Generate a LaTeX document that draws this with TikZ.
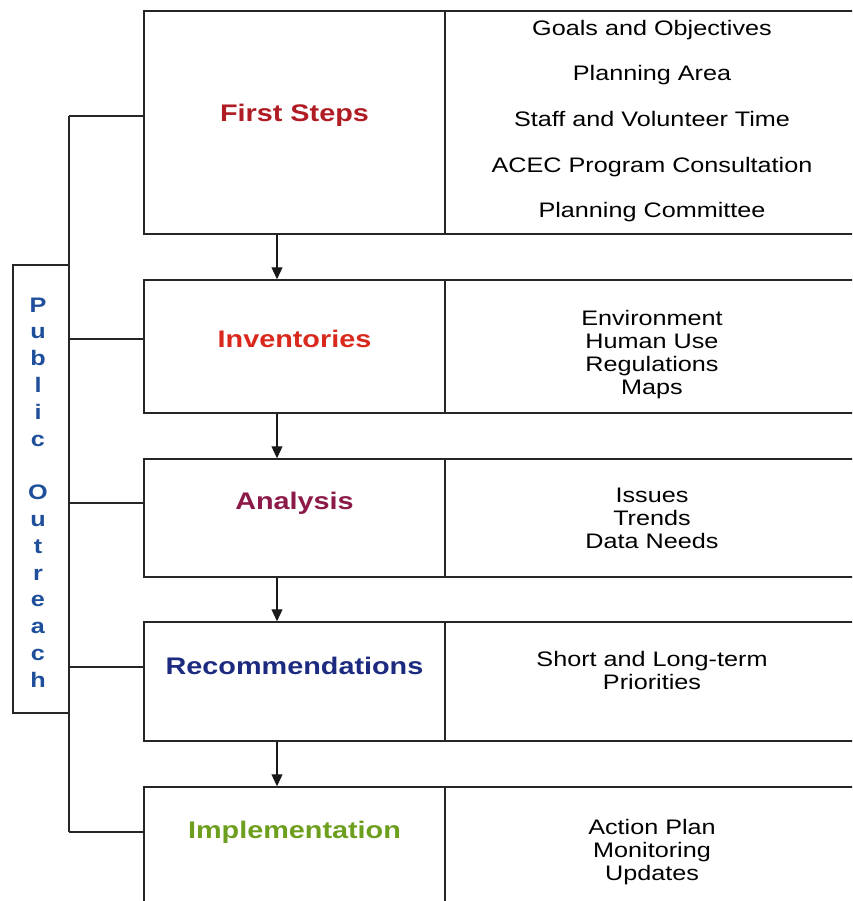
\documentclass[tikz,border=0pt]{standalone}
\usepackage{fontspec}
\setmainfont{Liberation Sans}[FakeStretch=1.2]
\usetikzlibrary{arrows.meta}
\definecolor{firstred}{HTML}{B01C24}
\definecolor{invred}{HTML}{D9281C}
\definecolor{anaplum}{HTML}{8C1A48}
\definecolor{recblue}{HTML}{1C2A80}
\definecolor{impgreen}{HTML}{6E9E1E}
\definecolor{poblue}{HTML}{1F4F9A}
\tikzset{
  stage/.style={draw=black!85,line width=1.5pt,minimum width=301pt},
  items/.style={draw=black!85,line width=1.5pt,minimum width=414pt},
  title/.style={font=\bfseries\fontsize{24}{28}\selectfont,anchor=base},
  list/.style={align=center,anchor=base,font=\fontsize{21}{23}\selectfont},
  link/.style={draw=black!85,line width=1.3pt},
  flow/.style={draw=black!90,line width=1.2pt,-{Triangle[length=12pt,width=11pt]}}
}

\begin{document}
\begin{tikzpicture}[x=1pt,y=-1pt]
\useasboundingbox (0,0) rectangle (852,901);
\clip (0,0) rectangle (852,901);
% boxes: stage on the left, items on the right
\foreach \n/\y/\h in {fs/122.5/223,inv/346.5/133,ana/518/118,rec/681.5/119,imp/862/150}{
\node[stage,minimum height=\h pt] (\n) at (294.5,\y) {};
\node[items,minimum height=\h pt] (\n-r) at (652,\y) {};
}
% stage titles
\node[title,firstred] (fs-t) at (294.5,121.5) {First Steps};
\node[title,invred] (inv-t) at (294.5,347.5) {Inventories};
\node[title,anaplum] (ana-t) at (294.5,509.5) {Analysis};
\node[title,recblue] (rec-t) at (294.5,674.5) {Recommendations};
\node[title,impgreen] (imp-t) at (294.5,838.5) {Implementation};
% item lists (placed by the baseline of their last line)
\node[list,font=\fontsize{21}{45.7}\selectfont] (fs-l) at (652,218) {Goals and Objectives\\Planning Area\\Staff and Volunteer Time\\ACEC Program Consultation\\Planning Committee};
\node[list] (inv-l) at (652,394) {Environment\\Human Use\\Regulations\\Maps};
\node[list] (ana-l) at (652,548) {Issues\\Trends\\Data Needs};
\node[list] (rec-l) at (652,689) {Short and Long-term\\Priorities};
\node[list] (imp-l) at (652,880) {Action Plan\\Monitoring\\Updates};
% arrows between stages
\coordinate (ax) at (277,0);
\foreach \a/\b in {fs/inv,inv/ana,ana/rec,rec/imp}{
\draw[flow] (\a.south -| ax) -- (\b.north -| ax);
}
% public outreach bracket
\node[draw=black!85,line width=1.3pt,minimum width=56pt,minimum height=448pt] (po) at (41,489) {};
\foreach \ch [count=\i from 0] in {P,u,b,l,i,c,{},O,u,t,r,e,a,c,h}{
\node[poblue,anchor=base,font=\bfseries\fontsize{21}{24}\selectfont,inner sep=0pt] (po-\i) at (38,{312+26.8*\i}) {\ch};
}
\coordinate (j1) at (69,116);
\coordinate (j2) at (69,339);
\coordinate (j3) at (69,503);
\coordinate (j4) at (69,667);
\coordinate (j5) at (69,832);
\draw[link] (j1) -- (j5);
\foreach \j/\n in {j1/fs,j2/inv,j3/ana,j4/rec,j5/imp}{
\draw[link] (\j) -- (\j -| \n.west);
}
\end{tikzpicture}
\end{document}
